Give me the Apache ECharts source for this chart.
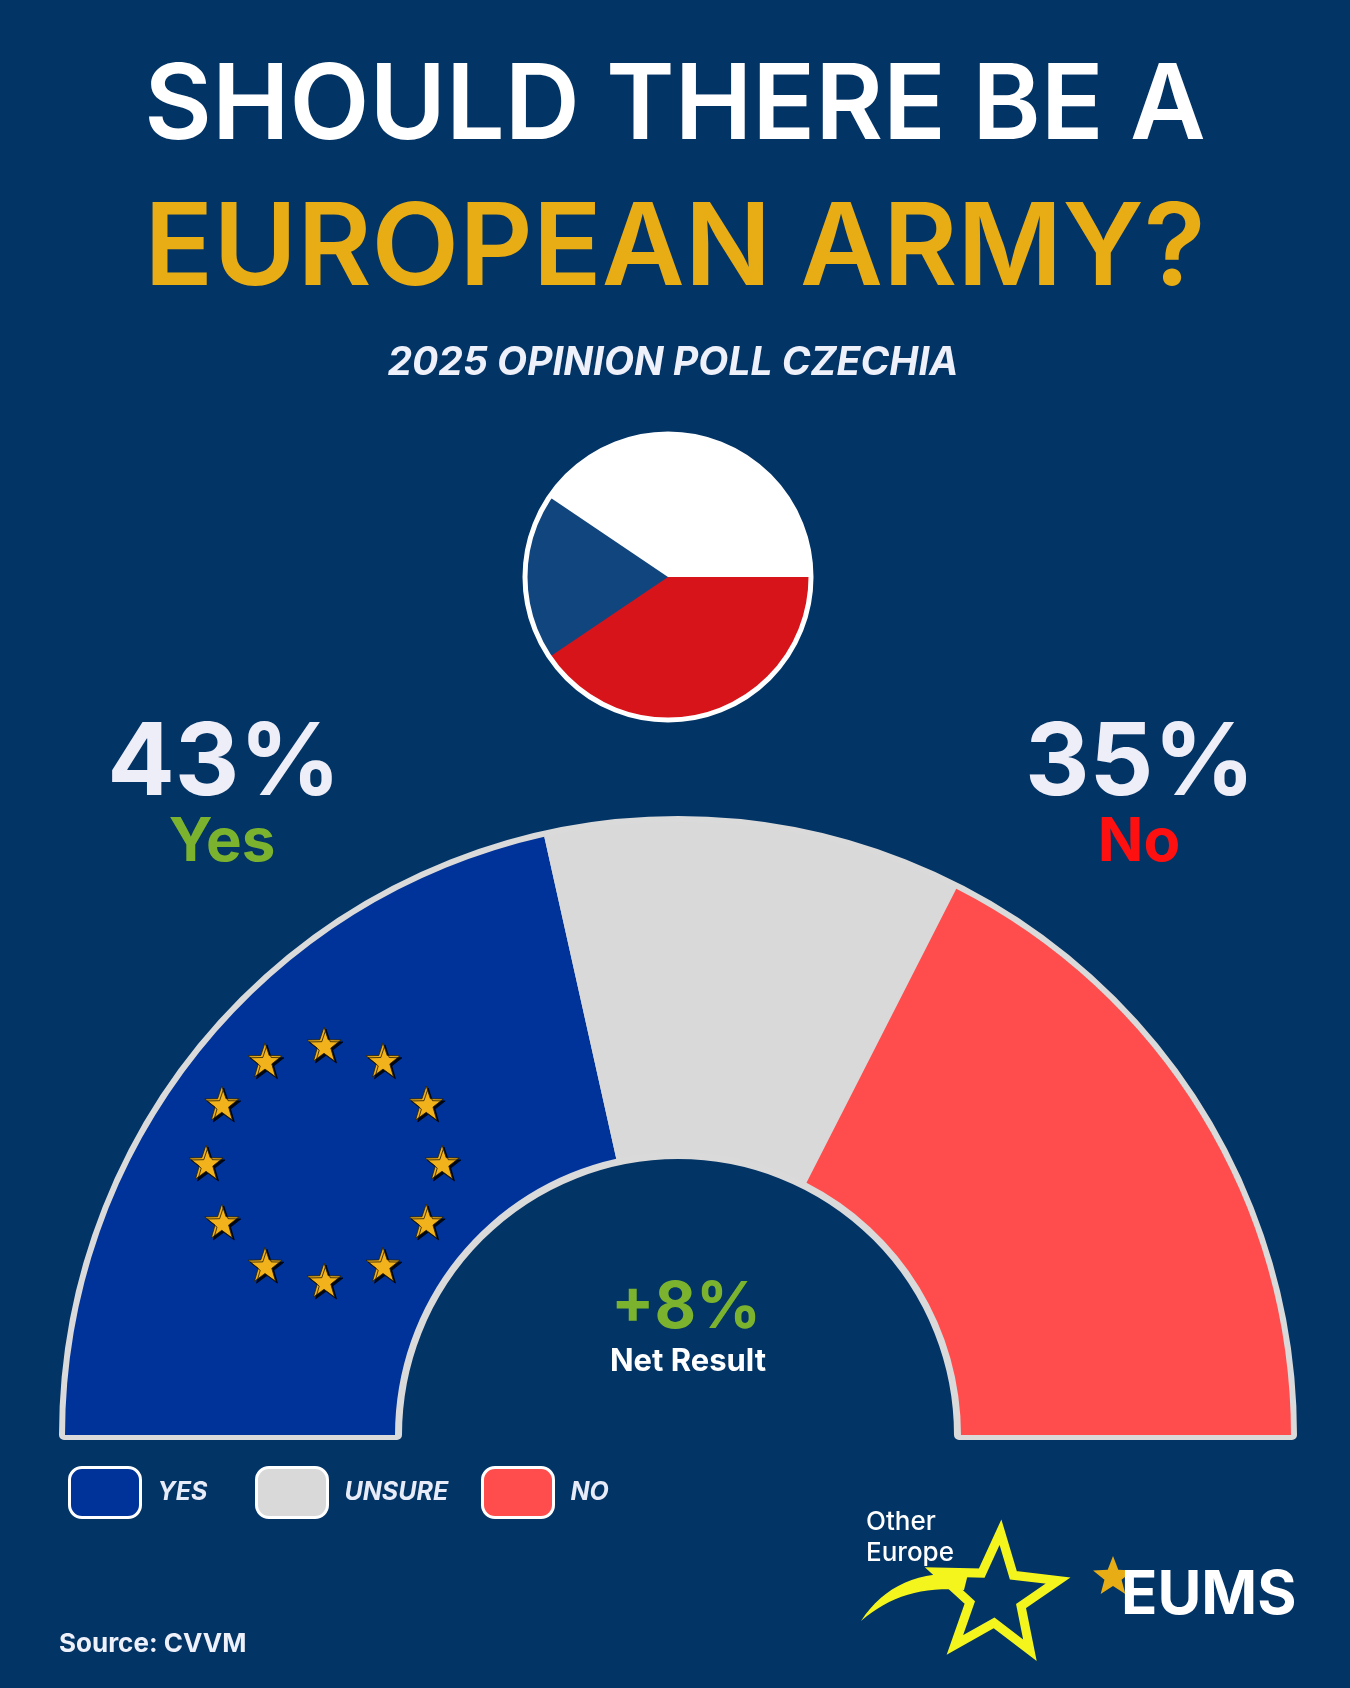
<!DOCTYPE html>
<html>
<head>
<meta charset="utf-8">
<script src="https://cdn.jsdelivr.net/npm/echarts@6/dist/echarts.min.js"></script>
<style>
    html, body { margin: 0; padding: 0; background: #033466; }
    #chart { width: 1350px; height: 1688px; }
</style>
</head>
<body>
<div id="chart"></div>
<script>
    // poll values
    var categories = ['Yes', 'Unsure', 'No']
    var shares = [43, 22, 35]
    var legendLabels = ['YES', 'UNSURE', 'NO']
    // EU flag: 12 stars on a ring, one every 30 degrees
    var starAngles = [0, 30, 60, 90, 120, 150, 180, 210, 240, 270, 300, 330]

    var sliceColors = ['#003399', '#d9d9d9', '#ff4d4d']
    var legendLeft = [68, 255, 481]
    var bg = '#033466'
    var font = 'Inter, "Noto Sans", sans-serif'

    function starPoints(cx, cy, R, r, rot) {
        var pts = []
        for (var i = 0; i < 10; i++) {
            var a = (rot - 90 + i * 36) * Math.PI / 180
            var rr = i % 2 ? r : R
            pts.push([cx + rr * Math.cos(a), cy + rr * Math.sin(a)])
        }
        return pts
    }
    var starPath = 'path://' + starPoints(50, 52, 50, 20, 0).map(function (p, i) {
        return (i ? 'L' : 'M') + p[0].toFixed(1) + ',' + p[1].toFixed(1)
    }).join(' ') + ' Z'

    // quadratic curve sampled into points (for the logo swoosh)
    function quad(p0, c, p1, n) {
        var pts = []
        for (var i = 0; i <= n; i++) {
            var t = i / n, u = 1 - t
            pts.push([u * u * p0[0] + 2 * u * t * c[0] + t * t * p1[0], u * u * p0[1] + 2 * u * t * c[1] + t * t * p1[1]])
        }
        return pts
    }
    var swoosh = quad([861, 1621], [895, 1568], [968, 1574], 16).concat(quad([964, 1590], [903, 1584], [861, 1621], 16))

    function text(str, x, y, fill, f, align) {
        return {
            type: 'text', z: 10,
            style: {text: str, x: x, y: y, fill: fill, font: f, textAlign: align || 'center', textVerticalAlign: 'middle'}
        }
    }
    var deg = Math.PI / 180
    var net = shares[0] - shares[2]

    var chart = echarts.init(document.getElementById('chart'))
    chart.setOption({
        backgroundColor: bg,
        animation: false,
        legend: categories.map(function (n, i) {
            return {
                data: [n],
                left: legendLeft[i],
                top: 1466,
                padding: 0,
                itemWidth: 71,
                itemHeight: 50,
                icon: 'roundRect',
                selectedMode: false,
                itemStyle: {borderColor: '#ffffff', borderWidth: 3},
                formatter: function () { return legendLabels[i] },
                textStyle: {color: '#e8ecf8', fontSize: 25, fontWeight: 'bold', fontStyle: 'italic', fontFamily: font, padding: [0, 0, 0, 12]}
            }
        }),
        polar: {center: [324, 1162], radius: 118},
        angleAxis: {type: 'value', min: 0, max: 360, startAngle: 90, show: false},
        radiusAxis: {type: 'value', min: 0, max: 1, show: false},
        series: [
            {
                // light outline round the whole half ring
                type: 'pie',
                silent: true,
                center: [678, 1435],
                radius: [281, 614],
                startAngle: 180,
                endAngle: 0,
                label: {show: false},
                labelLine: {show: false},
                itemStyle: {color: '#dadada', borderColor: '#dadada', borderWidth: 10},
                data: [{name: 'outline', value: 1}]
            },
            {
                type: 'pie',
                silent: true,
                center: [678, 1435],
                radius: [283, 613],
                startAngle: 180,
                endAngle: 0,
                label: {show: false},
                labelLine: {show: false},
                emphasis: {scale: false},
                data: categories.map(function (n, i) {
                    return {name: n, value: shares[i], itemStyle: {color: sliceColors[i]}}
                })
            },
            {
                type: 'scatter',
                coordinateSystem: 'polar',
                silent: true,
                symbol: starPath,
                symbolSize: 34,
                itemStyle: {color: '#f2b21b', opacity: 1, borderColor: '#2a2000', borderWidth: 0.8, shadowColor: 'rgba(0,0,0,0.85)', shadowOffsetX: 2, shadowOffsetY: 2, shadowBlur: 0},
                data: starAngles.map(function (a) { return [1, a] })
            }
        ],
        graphic: [
            text('SHOULD THERE BE A', 675, 108, '#ffffff', '600 104px ' + font),
            text('EUROPEAN ARMY?', 675, 251, '#e8ac14', '600 114px ' + font),
            text('2025 OPINION POLL CZECHIA', 673, 363, '#eef0fa', 'italic bold 39px ' + font),

            // Czech flag in a circle
            {type: 'circle', z: 5, shape: {cx: 668, cy: 577, r: 143}, style: {fill: '#ffffff'}},
            {type: 'sector', z: 6, shape: {cx: 668, cy: 577, r: 143, r0: 0, startAngle: 0, endAngle: Math.PI}, style: {fill: '#d7141a'}},
            {type: 'sector', z: 7, shape: {cx: 668, cy: 577, r: 143, r0: 0, startAngle: 146 * deg, endAngle: 214 * deg}, style: {fill: '#11457e'}},
            {type: 'circle', z: 8, shape: {cx: 668, cy: 577, r: 143}, style: {fill: 'none', stroke: '#ffffff', lineWidth: 5}},

            text(shares[0] + '%', 224, 765, '#eeeef8', 'bold 100px ' + font),
            text(categories[0], 222, 843, '#7cb32e', 'bold 60px ' + font),
            text(shares[2] + '%', 1140, 765, '#eeeef8', 'bold 100px ' + font),
            text(categories[2], 1139, 843, '#ff1010', 'bold 60px ' + font),

            text((net > 0 ? '+' : '') + net + '%', 686, 1309, '#7cb32e', 'bold 64px ' + font),
            text('Net Result', 688, 1362, '#ffffff', 'bold 31px ' + font),

            text('Source: CVVM', 59, 1644, '#eef0fa', 'bold 26px ' + font, 'left'),

            // Other Europe logo
            text('Other', 866, 1522, '#ffffff', '500 26px ' + font, 'left'),
            text('Europe', 866, 1553, '#ffffff', '500 26px ' + font, 'left'),
            {type: 'polygon', z: 10, shape: {points: swoosh}, style: {fill: '#f5f51e'}},
            {type: 'polygon', z: 10, shape: {points: starPoints(996, 1596, 64, 27, 4)}, style: {fill: 'none', stroke: '#f5f51e', lineWidth: 9, lineJoin: 'miter'}},

            // EUMS logo
            {type: 'polygon', z: 10, shape: {points: starPoints(1113, 1577, 21, 9, 0)}, style: {fill: '#e8ac14'}},
            text('EUMS', 1121, 1596, '#ffffff', 'bold 60px ' + font, 'left')
        ]
    })
</script>
</body>
</html>
